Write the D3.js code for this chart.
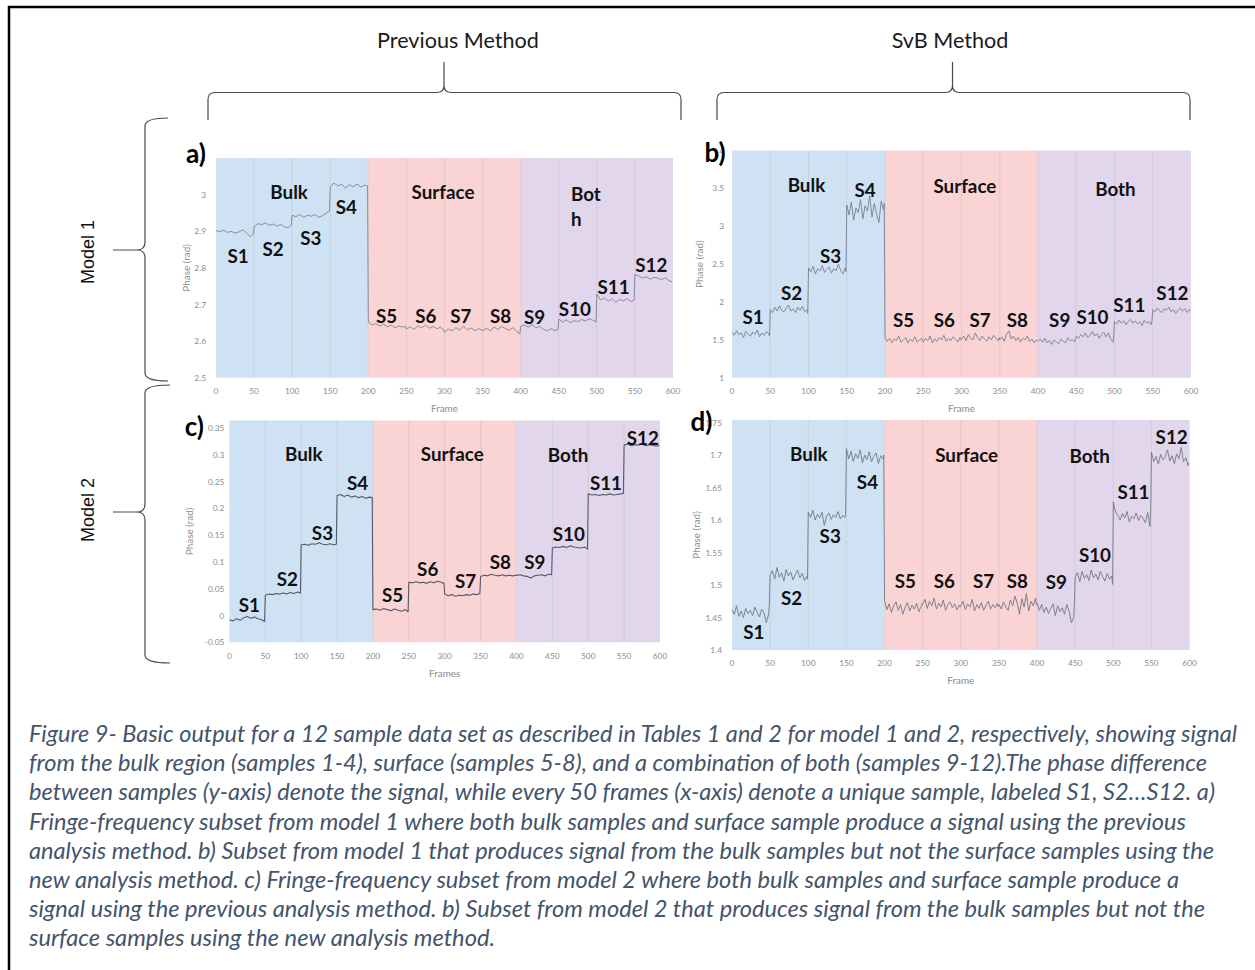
<!DOCTYPE html>
<html>
<head>
<meta charset="utf-8">
<script src="https://cdn.jsdelivr.net/npm/d3@7"></script>
<style>
  body { margin: 0; background: #fff; }
  svg { display: block; }
</style>
</head>
<body>
<svg id="fig" width="1255" height="970"></svg>
<script>
// ---------------- data ----------------
// each sample spans 50 frames; values are read at these frame offsets inside the sample
const offsetsPrevious = [0, 5, 10, 15, 20, 25, 30, 35, 40, 45, 49];
const offsetsSvB = [0, 3, 6, 9, 12, 15, 18, 21, 24, 27, 30, 33, 36, 39, 42, 45, 48, 49];
const sampleNames = ["S1","S2","S3","S4","S5","S6","S7","S8","S9","S10","S11","S12"];
const regionNames = ["Bulk", "Surface", "Both"];
const regionBounds = [[0, 200], [200, 400], [400, 600]];
const xTicks = [0, 50, 100, 150, 200, 250, 300, 350, 400, 450, 500, 550, 600];

// Model 1, previous method (panel a)
const phaseM1Previous = [
  [2.902, 2.899, 2.903, 2.897, 2.900, 2.895, 2.898, 2.904, 2.896, 2.885, 2.892],
  [2.912, 2.921, 2.918, 2.923, 2.916, 2.920, 2.914, 2.919, 2.912, 2.910, 2.916],
  [2.944, 2.940, 2.946, 2.938, 2.944, 2.941, 2.946, 2.938, 2.943, 2.950, 2.955],
  [3.022, 3.032, 3.024, 3.029, 3.018, 3.027, 3.022, 3.029, 3.021, 3.026, 3.024],
  [2.652, 2.644, 2.648, 2.641, 2.646, 2.639, 2.644, 2.636, 2.642, 2.638, 2.640],
  [2.633, 2.639, 2.632, 2.642, 2.636, 2.644, 2.635, 2.640, 2.634, 2.638, 2.630],
  [2.624, 2.633, 2.628, 2.637, 2.630, 2.641, 2.631, 2.636, 2.628, 2.634, 2.630],
  [2.629, 2.635, 2.628, 2.638, 2.632, 2.640, 2.634, 2.630, 2.637, 2.626, 2.620],
  [2.640, 2.644, 2.638, 2.645, 2.636, 2.640, 2.632, 2.628, 2.634, 2.629, 2.632],
  [2.660, 2.652, 2.658, 2.650, 2.656, 2.653, 2.659, 2.655, 2.661, 2.657, 2.652],
  [2.728, 2.712, 2.718, 2.709, 2.716, 2.706, 2.714, 2.710, 2.716, 2.708, 2.712],
  [2.782, 2.778, 2.772, 2.776, 2.769, 2.774, 2.772, 2.768, 2.773, 2.765, 2.762]
];

// Model 1, SvB method (panel b)
const phaseM1SvB = [
  [1.60, 1.56, 1.62, 1.57, 1.59, 1.53, 1.61, 1.58, 1.55, 1.60, 1.57, 1.63, 1.54, 1.59, 1.56, 1.61, 1.58, 1.55],
  [1.90, 1.86, 1.93, 1.88, 1.95, 1.89, 1.87, 1.92, 1.96, 1.88, 1.91, 1.86, 1.93, 1.89, 1.94, 1.87, 1.90, 1.85],
  [2.45, 2.40, 2.47, 2.37, 2.44, 2.41, 2.48, 2.39, 2.43, 2.46, 2.38, 2.44, 2.41, 2.50, 2.42, 2.37, 2.45, 2.40],
  [3.28, 3.15, 3.32, 3.08, 3.24, 3.18, 3.35, 3.10, 3.27, 3.20, 3.40, 3.12, 3.30, 3.16, 3.05, 3.33, 3.22, 3.30],
  [1.53, 1.48, 1.52, 1.46, 1.51, 1.49, 1.55, 1.47, 1.50, 1.53, 1.46, 1.51, 1.48, 1.54, 1.47, 1.50, 1.52, 1.48],
  [1.47, 1.52, 1.49, 1.55, 1.46, 1.51, 1.48, 1.53, 1.50, 1.56, 1.48, 1.52, 1.49, 1.54, 1.51, 1.47, 1.53, 1.50],
  [1.51, 1.55, 1.49, 1.57, 1.52, 1.50, 1.59, 1.53, 1.49, 1.55, 1.51, 1.48, 1.54, 1.50, 1.56, 1.52, 1.49, 1.53],
  [1.50, 1.54, 1.48, 1.58, 1.62, 1.51, 1.55, 1.49, 1.53, 1.47, 1.52, 1.50, 1.55, 1.48, 1.51, 1.46, 1.50, 1.49],
  [1.48, 1.51, 1.47, 1.52, 1.46, 1.49, 1.44, 1.50, 1.47, 1.45, 1.51, 1.48, 1.46, 1.53, 1.49, 1.50, 1.47, 1.52],
  [1.55, 1.52, 1.57, 1.54, 1.59, 1.53, 1.56, 1.61, 1.55, 1.58, 1.52, 1.57, 1.60, 1.54, 1.59, 1.51, 1.47, 1.55],
  [1.74, 1.71, 1.76, 1.72, 1.75, 1.70, 1.74, 1.77, 1.72, 1.75, 1.71, 1.74, 1.69, 1.76, 1.72, 1.74, 1.70, 1.75],
  [1.90, 1.87, 1.92, 1.88, 1.86, 1.91, 1.89, 1.93, 1.87, 1.90, 1.85, 1.89, 1.92, 1.88, 1.91, 1.86, 1.90, 1.88]
];

// Model 2, previous method (panel c)
const phaseM2Previous = [
  [-0.008, -0.010, -0.006, -0.009, -0.004, -0.002, -0.005, -0.003, -0.006, -0.008, -0.011],
  [0.038, 0.040, 0.039, 0.041, 0.040, 0.042, 0.040, 0.043, 0.041, 0.044, 0.042],
  [0.132, 0.133, 0.131, 0.134, 0.133, 0.136, 0.133, 0.132, 0.134, 0.132, 0.133],
  [0.224, 0.226, 0.222, 0.225, 0.221, 0.223, 0.220, 0.222, 0.219, 0.221, 0.220],
  [0.011, 0.012, 0.010, 0.013, 0.011, 0.009, 0.012, 0.010, 0.008, 0.011, 0.007],
  [0.062, 0.061, 0.063, 0.061, 0.062, 0.060, 0.063, 0.061, 0.064, 0.062, 0.060],
  [0.040, 0.037, 0.039, 0.036, 0.038, 0.037, 0.039, 0.038, 0.040, 0.039, 0.041],
  [0.073, 0.075, 0.074, 0.077, 0.075, 0.074, 0.076, 0.074, 0.075, 0.074, 0.075],
  [0.075, 0.076, 0.074, 0.073, 0.070, 0.074, 0.075, 0.076, 0.074, 0.077, 0.076],
  [0.126, 0.128, 0.127, 0.129, 0.127, 0.130, 0.128, 0.127, 0.126, 0.128, 0.124],
  [0.227, 0.225, 0.226, 0.224, 0.226, 0.225, 0.227, 0.225, 0.226, 0.227, 0.228],
  [0.318, 0.320, 0.317, 0.319, 0.318, 0.320, 0.317, 0.319, 0.318, 0.316, 0.318]
];

// Model 2, SvB method (panel d)
const phaseM2SvB = [
  [1.462, 1.455, 1.468, 1.452, 1.460, 1.450, 1.464, 1.456, 1.461, 1.453, 1.466, 1.458, 1.451, 1.463, 1.457, 1.442, 1.455, 1.470],
  [1.515, 1.522, 1.509, 1.527, 1.512, 1.519, 1.506, 1.524, 1.514, 1.520, 1.508, 1.516, 1.523, 1.511, 1.518, 1.507, 1.513, 1.509],
  [1.612, 1.604, 1.615, 1.600, 1.609, 1.603, 1.612, 1.592, 1.606, 1.611, 1.601, 1.608, 1.604, 1.613, 1.602, 1.607, 1.604, 1.609],
  [1.710, 1.694, 1.706, 1.690, 1.702, 1.695, 1.708, 1.688, 1.700, 1.693, 1.705, 1.690, 1.698, 1.703, 1.687, 1.699, 1.694, 1.700],
  [1.476, 1.462, 1.471, 1.458, 1.468, 1.474, 1.461, 1.470, 1.455, 1.466, 1.473, 1.460, 1.469, 1.463, 1.472, 1.459, 1.467, 1.471],
  [1.470, 1.478, 1.464, 1.475, 1.468, 1.480, 1.463, 1.472, 1.466, 1.477, 1.461, 1.470, 1.474, 1.465, 1.471, 1.462, 1.469, 1.466],
  [1.468, 1.475, 1.462, 1.471, 1.466, 1.478, 1.460, 1.470, 1.464, 1.473, 1.461, 1.469, 1.475, 1.463, 1.470, 1.465, 1.472, 1.467],
  [1.470, 1.463, 1.474, 1.466, 1.461, 1.477, 1.468, 1.483, 1.472, 1.455, 1.479, 1.466, 1.487, 1.460, 1.475, 1.468, 1.480, 1.470],
  [1.472, 1.461, 1.470, 1.458, 1.466, 1.456, 1.464, 1.471, 1.453, 1.468, 1.459, 1.465, 1.455, 1.470, 1.460, 1.442, 1.450, 1.474],
  [1.512, 1.519, 1.505, 1.521, 1.510, 1.516, 1.507, 1.523, 1.511, 1.517, 1.508, 1.521, 1.513, 1.506, 1.518, 1.509, 1.514, 1.501],
  [1.628, 1.612, 1.607, 1.600, 1.610, 1.603, 1.613, 1.597, 1.606, 1.602, 1.611, 1.599, 1.607, 1.603, 1.596, 1.612, 1.590, 1.618],
  [1.704, 1.690, 1.698, 1.686, 1.701, 1.693, 1.697, 1.708, 1.691, 1.699, 1.687, 1.702, 1.694, 1.712, 1.690, 1.696, 1.684, 1.688]
];

const yTicksA = [2.5, 2.6, 2.7, 2.8, 2.9, 3, 3.1];
const yTicksB = [1, 1.5, 2, 2.5, 3, 3.5, 4];
const yTicksC = [-0.05, 0, 0.05, 0.1, 0.15, 0.2, 0.25, 0.3, 0.35];
const yTicksD = [1.4, 1.45, 1.5, 1.55, 1.6, 1.65, 1.7, 1.75];

const methodTitles = ["Previous Method", "SvB Method"];
const modelTitles = ["Model 1", "Model 2"];

const captionLines = [
  "Figure 9- Basic output for a 12 sample data set as described in Tables 1 and 2 for model 1 and 2, respectively, showing signal",
  "from the bulk region (samples 1-4), surface (samples 5-8), and a combination of both (samples 9-12).The phase difference",
  "between samples (y-axis) denote the signal, while every 50 frames (x-axis) denote a unique sample, labeled S1, S2\u2026S12. a)",
  "Fringe-frequency subset from model 1 where both bulk samples and surface sample produce a signal using the previous",
  "analysis method. b) Subset from model 1 that produces signal from the bulk samples but not the surface samples using the",
  "new analysis method. c) Fringe-frequency subset from model 2 where both bulk samples and surface sample produce a",
  "signal using the previous analysis method. b) Subset from model 2 that produces signal from the bulk samples but not the",
  "surface samples using the new analysis method."
];

// ---------------- layout ----------------
const svg = d3.select("#fig");
const regionFill = ["#cfe2f3", "#fad3d4", "#e2d6ec"];
const chartFont = "Lato, 'Open Sans', sans-serif";

// measure a string so fonts can be sized to the figure's text widths
function fontSizeFor(sample, target, weight, style, family) {
  const t = svg.append("text")
    .attr("font-family", family || chartFont)
    .attr("font-weight", weight || "normal")
    .attr("font-style", style || "normal")
    .attr("font-size", 20).text(sample);
  const w = t.node().getComputedTextLength();
  t.remove();
  return 20 * target / w;
}

const boldSize = fontSizeFor("Surface", 63, "bold");
const tickSize = fontSizeFor("600", 14.5);
const titleSize = fontSizeFor("Frame", 27);

const panels = [
  {
    values: phaseM1Previous, offsets: offsetsPrevious, yDomain: [2.5, 3.1], yTicks: yTicksA,
    xRange: [216, 673], yRange: [377.7, 158.1], xTitle: "Frame",
    lineColor: "#7b8593", lineWidth: 0.9,
    letter: "a)", letterAt: [-20, -5], tickGap: 10, yTitleDx: -30,
    regionLabelAt: [[96, 3.008], [298, 3.008], null],
    bothSplit: { frame: 466, values: [3.002, 2.936] },
    sampleLabelAt: [[29, 2.835], [75, 2.854], [124.5, 2.882], [171, 2.967], [224, 2.671], [275.6, 2.669],
                    [321.5, 2.669], [373.6, 2.669], [418.3, 2.666], [471.2, 2.690], [521.9, 2.749], [571.6, 2.808]]
  },
  {
    values: phaseM1SvB, offsets: offsetsSvB, yDomain: [1, 4], yTicks: yTicksB,
    xRange: [732, 1191], yRange: [377.7, 150.5], xTitle: "Frame",
    lineColor: "#76808e", lineWidth: 0.9,
    letter: "b)", letterAt: [-17, 1.5], tickGap: 8, yTitleDx: -33,
    regionLabelAt: [[97.3, 3.545], [304.4, 3.535], [501.3, 3.492]],
    sampleLabelAt: [[27.5, 1.805], [78, 2.122], [128.8, 2.62], [174, 3.479], [224.3, 1.762], [277.6, 1.762],
                    [324.4, 1.762], [373, 1.762], [428.4, 1.762], [471.2, 1.805], [519.4, 1.973], [575.7, 2.128]]
  },
  {
    values: phaseM2Previous, offsets: offsetsPrevious, yDomain: [-0.05, 0.364], yTicks: yTicksC,
    xRange: [229.4, 660], yRange: [642.3, 420.5], xTitle: "Frames",
    lineColor: "#525b68", lineWidth: 1.1,
    letter: "c)", letterAt: [-35, 5], tickGap: 5, yTitleDx: -40,
    regionLabelAt: [[103.7, 0.302], [310.6, 0.302], [471.9, 0.300]],
    sampleLabelAt: [[27.9, 0.020], [80.7, 0.0696], [129.7, 0.1555], [178.6, 0.2477], [227.4, 0.0386], [276.3, 0.0872],
                    [329.2, 0.0653], [377.5, 0.1008], [425.5, 0.1008], [472.9, 0.1536], [524.7, 0.2477], [576, 0.3328]]
  },
  {
    values: phaseM2SvB, offsets: offsetsSvB, yDomain: [1.4, 1.754], yTicks: yTicksD,
    xRange: [732, 1189.6], yRange: [650, 420], xTitle: "Frame",
    lineColor: "#6f7987", lineWidth: 0.9,
    letter: "d)", letterAt: [-30.5, 1], tickGap: 10, yTitleDx: -36.5,
    regionLabelAt: [[100.8, 1.7026], [307.7, 1.7015], [469, 1.70]],
    sampleLabelAt: [[28.5, 1.4282], [78.2, 1.481], [128.8, 1.5769], [177.6, 1.659], [227.2, 1.5066], [278.4, 1.5066],
                    [329.8, 1.5066], [374.2, 1.5077], [425.2, 1.505], [475.9, 1.5477], [526.4, 1.6446], [576.5, 1.728]]
  }
];

const fmt = v => String(+v.toFixed(3));

panels.forEach(p => {
  const x = d3.scaleLinear().domain([0, 600]).range(p.xRange);
  const y = d3.scaleLinear().domain(p.yDomain).range(p.yRange);
  const g = svg.append("g");
  const top = p.yRange[1], bottom = p.yRange[0];

  // shaded regions: bulk, surface, both
  g.selectAll("rect.region").data(regionBounds).join("rect")
    .attr("x", d => x(d[0])).attr("width", d => x(d[1]) - x(d[0]))
    .attr("y", top).attr("height", bottom - top)
    .attr("fill", (d, i) => regionFill[i]);

  // vertical gridlines every 50 frames
  g.selectAll("line.grid").data(xTicks.filter(t => t > 0 && t < 600)).join("line")
    .attr("x1", d => x(d)).attr("x2", d => x(d))
    .attr("y1", top).attr("y2", bottom)
    .attr("stroke", "#8a8a8a").attr("stroke-opacity", 0.16).attr("stroke-width", 1);

  // phase trace
  const pts = [];
  p.values.forEach((seg, s) => seg.forEach((v, k) => pts.push({ frame: s * 50 + p.offsets[k], value: v })));
  g.append("path").datum(pts)
    .attr("d", d3.line().x(d => x(d.frame)).y(d => y(d.value)))
    .attr("fill", "none").attr("stroke", p.lineColor).attr("stroke-width", p.lineWidth)
    .attr("stroke-linejoin", "round");

  // x tick labels
  g.selectAll("text.xt").data(xTicks).join("text")
    .attr("x", d => x(d)).attr("y", bottom + 13.3)
    .attr("text-anchor", "middle").attr("dominant-baseline", "central")
    .attr("font-family", chartFont).attr("font-size", tickSize).attr("fill", "#8c8c8c")
    .text(d => d);

  // y tick labels
  g.selectAll("text.yt").data(p.yTicks).join("text")
    .attr("x", p.xRange[0] - p.tickGap).attr("y", d => y(d))
    .attr("text-anchor", "end").attr("dominant-baseline", "central")
    .attr("font-family", chartFont).attr("font-size", tickSize).attr("fill", "#8c8c8c")
    .text(fmt);

  // axis titles
  g.append("text")
    .attr("x", (p.xRange[0] + p.xRange[1]) / 2).attr("y", bottom + 30.3)
    .attr("text-anchor", "middle").attr("dominant-baseline", "central")
    .attr("font-family", chartFont).attr("font-size", titleSize).attr("fill", "#8c8c8c")
    .text(p.xTitle);
  g.append("text")
    .attr("transform", `translate(${p.xRange[0] + p.yTitleDx},${(top + bottom) / 2}) rotate(-90)`)
    .attr("text-anchor", "middle").attr("dominant-baseline", "central")
    .attr("font-family", chartFont).attr("font-size", titleSize).attr("fill", "#8c8c8c")
    .text("Phase (rad)");

  // region labels
  regionNames.forEach((name, i) => {
    const at = p.regionLabelAt[i];
    if (!at) return;
    g.append("text").attr("x", x(at[0])).attr("y", y(at[1]))
      .attr("text-anchor", "middle").attr("dominant-baseline", "central")
      .attr("font-family", chartFont).attr("font-weight", "bold").attr("font-size", boldSize).attr("fill", "#111")
      .text(name);
  });
  if (p.bothSplit) {
    // "Both" wraps onto two lines in this panel
    ["Bot", "h"].forEach((t, k) => {
      g.append("text").attr("x", x(p.bothSplit.frame)).attr("y", y(p.bothSplit.values[k]))
        .attr("text-anchor", "start").attr("dominant-baseline", "central")
        .attr("font-family", chartFont).attr("font-weight", "bold").attr("font-size", boldSize).attr("fill", "#111")
        .text(t);
    });
  }

  // sample labels S1..S12
  g.selectAll("text.sample").data(sampleNames).join("text")
    .attr("x", (d, i) => x(p.sampleLabelAt[i][0])).attr("y", (d, i) => y(p.sampleLabelAt[i][1]))
    .attr("text-anchor", "middle").attr("dominant-baseline", "central")
    .attr("font-family", chartFont).attr("font-weight", "bold").attr("font-size", boldSize).attr("fill", "#111")
    .text(d => d);

  // panel letter
  g.append("text").attr("x", p.xRange[0] + p.letterAt[0]).attr("y", top + p.letterAt[1])
    .attr("text-anchor", "middle").attr("dominant-baseline", "central")
    .attr("font-family", chartFont).attr("font-weight", "bold").attr("font-size", 26).attr("fill", "#000")
    .text(p.letter);
});

// ---------------- braces and headings ----------------
const braceStroke = "#4a4a4a";

function topBrace(x0, x1, xm, yLine, yTip, yEnd) {
  const r = 7, c = 7;
  return `M${x0},${yEnd} L${x0},${yLine + r} Q${x0},${yLine} ${x0 + r},${yLine}` +
    ` L${xm - c},${yLine} Q${xm},${yLine} ${xm},${yLine - c} L${xm},${yTip}` +
    ` M${xm},${yLine - c} Q${xm},${yLine} ${xm + c},${yLine}` +
    ` L${x1 - r},${yLine} Q${x1},${yLine} ${x1},${yLine + r} L${x1},${yEnd}`;
}
function sideBrace(xs, y0, y1, ym, xTip, xEnd) {
  const r = 8, c = 8;
  return `M${xEnd},${y0} Q${xs},${y0} ${xs},${y0 + r} L${xs},${ym - c} Q${xs},${ym} ${xs - c},${ym} L${xTip},${ym}` +
    ` M${xs - c},${ym} Q${xs},${ym} ${xs},${ym + c} L${xs},${y1 - r} Q${xs},${y1} ${xEnd},${y1}`;
}

const braceG = svg.append("g").attr("fill", "none").attr("stroke", braceStroke).attr("stroke-width", 1.2);
braceG.append("path").attr("d", topBrace(208, 681, 444, 92.5, 62, 120));
braceG.append("path").attr("d", topBrace(717, 1190, 952.5, 92.5, 62, 120));
braceG.append("path").attr("d", sideBrace(145, 118, 381, 250, 113, 168));
braceG.append("path").attr("d", sideBrace(145, 385, 663, 512, 113, 170));

const headSize = fontSizeFor("Previous Method", 162);
svg.selectAll("text.method").data(methodTitles).join("text")
  .attr("x", (d, i) => [458, 950][i]).attr("y", 40)
  .attr("text-anchor", "middle").attr("dominant-baseline", "central")
  .attr("font-family", chartFont).attr("font-size", headSize).attr("fill", "#1a1a1a")
  .text(d => d);

svg.selectAll("text.model").data(modelTitles).join("text")
  .attr("transform", (d, i) => `translate(88,${[252, 510][i]}) rotate(-90)`)
  .attr("text-anchor", "middle").attr("dominant-baseline", "central")
  .attr("font-family", "'Liberation Sans', Arial, sans-serif").attr("font-size", 18).attr("fill", "#111")
  .text(d => d);

// ---------------- caption ----------------
const captionWidths = [1208, 1178, 1186, 1157, 1185, 1150, 1176, 466];
const capSize = fontSizeFor(captionLines[7], 466, "normal", "italic");
svg.selectAll("text.caption").data(captionLines).join("text")
  .attr("x", 29).attr("y", (d, i) => 733 + i * 29.2)
  .attr("dominant-baseline", "central")
  .attr("font-family", chartFont).attr("font-style", "italic").attr("font-size", capSize)
  .attr("fill", "#44546a")
  .attr("textLength", (d, i) => captionWidths[i]).attr("lengthAdjust", "spacingAndGlyphs")
  .text(d => d);

// outer frame
svg.append("rect").attr("x", 9).attr("y", 7).attr("width", 1270).attr("height", 990)
  .attr("fill", "none").attr("stroke", "#000").attr("stroke-width", 2.5);
</script>
</body>
</html>
